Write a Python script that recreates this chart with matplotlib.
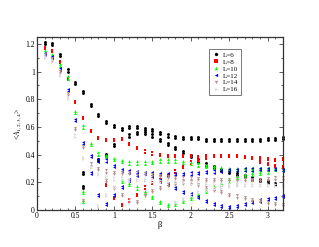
import numpy as np
import matplotlib.pyplot as plt
import matplotlib.transforms as mtransforms

nan = np.nan

beta = [0.1, 0.2, 0.3, 0.4, 0.5, 0.6, 0.7, 0.8, 0.9, 1.0, 1.1, 1.2, 1.3, 1.4, 1.5, 1.6,
        1.7, 1.8, 1.9, 2.0, 2.1, 2.2, 2.3, 2.4, 2.5, 2.6, 2.7, 2.8, 2.9, 3.0, 3.1, 3.2]

# L=6
l6_top = [1.20, 1.19, 1.11, 1.00, 0.91, 0.845, 0.75, 0.68, 0.63, 0.60, 0.58, 0.59, 0.59, 0.58, 0.57, 0.55,
          0.53, 0.52, 0.51, 0.51, 0.51, 0.50, 0.50, 0.50, 0.50, 0.50, 0.50, 0.50, 0.50, 0.505, 0.505, 0.51]
l6_mid = [nan, nan, nan, nan, nan, nan, nan, nan, nan, nan, nan, 0.53, 0.55, 0.55, 0.53, 0.50,
          0.47, 0.44, 0.41, 0.38, 0.35, 0.32, 0.30, 0.28, 0.265, 0.25, 0.235, 0.22, 0.21, 0.195, 0.18, nan]
l6_low = [nan, nan, nan, nan, nan, 0.26, nan, 0.355, 0.39, 0.46, nan, nan, nan, nan, nan, nan,
          nan, nan, nan, nan, nan, nan, nan, nan, nan, nan, nan, nan, nan, nan, nan, nan]
l6_low2 = [nan, nan, nan, nan, nan, 0.16, nan, nan, nan, nan, nan, nan, nan, nan, nan, nan,
           nan, nan, nan, nan, nan, nan, nan, nan, nan, nan, nan, nan, nan, nan, nan, nan]

# L=8
l8_top = [1.16, 1.14, 1.06, 0.94, 0.77, 0.655, 0.565, 0.515, 0.50, 0.50, 0.505, 0.47, 0.44, 0.415, 0.40, 0.39,
          0.38, 0.38, 0.38, 0.38, 0.375, 0.38, 0.38, 0.38, 0.38, 0.38, 0.375, 0.37, 0.365, 0.36, 0.355, 0.36]
l8_mid = [nan, nan, nan, nan, nan, nan, nan, nan, nan, nan, nan, nan, nan, nan, nan, nan,
          nan, nan, nan, nan, nan, nan, nan, nan, nan, nan, nan, nan, 0.34, 0.325, 0.31, 0.30]
l8_low = [nan, nan, nan, nan, nan, nan, nan, nan, 0.175, 0.08, 0.03, 0.06, 0.10, 0.155, 0.185, 0.21,
          0.24, 0.27, 0.30, 0.335, 0.355, 0.37, nan, nan, nan, nan, nan, nan, nan, nan, nan, nan]

# L=10
l10_top = [1.14, 1.11, 1.04, 0.95, 0.70, 0.595, 0.47, 0.40, 0.38, 0.36, 0.345, 0.335, 0.335, 0.335, 0.34, 0.35,
           0.35, 0.35, 0.34, 0.33, 0.32, 0.31, 0.30, 0.295, 0.29, 0.29, 0.29, 0.29, 0.29, 0.29, 0.29, 0.29]
l10_low = [nan, nan, nan, nan, nan, 0.12, nan, nan, nan, nan, 0.20, 0.18, 0.155, 0.12, 0.085, 0.05,
           0.03, 0.035, 0.055, 0.08, 0.10, 0.13, 0.155, 0.18, 0.205, 0.23, 0.245, 0.25, 0.26, 0.27, nan, nan]
l10_low2 = [nan, nan, nan, nan, nan, 0.055, nan, nan, nan, nan, nan, nan, nan, nan, nan, nan,
            nan, nan, nan, nan, nan, nan, nan, nan, nan, nan, nan, nan, nan, nan, nan, nan]

# L=12
l12_top = [1.12, 1.10, 1.01, 0.86, 0.64, 0.475, 0.38, 0.35, 0.35, 0.31, 0.28, 0.27, 0.265, 0.26, 0.255, 0.25,
           0.25, 0.25, 0.25, 0.255, 0.26, 0.265, 0.27, 0.275, 0.28, 0.28, 0.285, 0.285, 0.29, 0.29, 0.29, 0.28]
l12_low = [nan, nan, nan, nan, nan, nan, 0.26, 0.10, 0.035, 0.10, 0.16, 0.21, 0.245, nan, 0.235, 0.205,
           0.18, 0.15, 0.12, 0.11, 0.085, 0.055, 0.035, 0.02, 0.015, 0.02, 0.035, 0.05, 0.06, 0.07, 0.08, 0.095]

# L=14
l14_top = [1.11, 1.08, 0.99, 0.83, 0.58, 0.45, 0.32, 0.29, 0.27, 0.26, 0.26, 0.26, 0.255, 0.25, 0.245, 0.24,
           0.23, 0.225, 0.22, 0.22, 0.215, 0.21, 0.21, 0.21, 0.21, 0.21, 0.21, 0.21, 0.21, 0.215, 0.22, 0.22]
l14_low = [nan, nan, nan, nan, nan, 0.055, nan, nan, 0.20, 0.15, 0.10, 0.06, 0.05, 0.10, 0.13, 0.15,
           0.17, 0.18, 0.19, 0.19, 0.17, 0.15, 0.14, 0.12, 0.10, 0.09, 0.08, 0.065, 0.055, 0.045, 0.035, 0.025]

# L=16
l16_top = [1.10, 1.07, 0.97, 0.80, 0.53, 0.37, 0.30, 0.25, 0.23, 0.22, 0.22, 0.21, 0.21, 0.21, 0.205, 0.20,
           0.20, 0.195, 0.195, 0.19, 0.19, 0.185, 0.185, 0.18, 0.18, 0.18, 0.175, 0.175, 0.17, 0.17, 0.17, 0.17]
l16_low = [nan, nan, nan, nan, nan, nan, nan, 0.02, 0.10, 0.16, nan, nan, nan, nan, nan, nan,
           nan, 0.05, 0.07, 0.10, 0.12, 0.135, 0.15, 0.16, 0.165, 0.17, nan, nan, nan, nan, nan, nan]

series = [
    ('L=6', 'black', 'o', [l6_top, l6_mid, l6_low, l6_low2]),
    ('L=8', 'red', 's', [l8_top, l8_mid, l8_low]),
    ('L=10', '#00ff00', '^', [l10_top, l10_low, l10_low2]),
    ('L=12', 'blue', '<', [l12_top, l12_low]),
    ('L=14', '#bc8f8f', 'v', [l14_top, l14_low]),
    ('L=16', '#dcdcdc', '>', [l16_top, l16_low]),
]

plt.rcParams['font.family'] = ['Liberation Serif', 'DejaVu Serif']
plt.rcParams['mathtext.fontset'] = 'stix'

fig = plt.figure(figsize=(3.19, 2.47), dpi=100)
ax = fig.add_axes([0.116, 0.150, 0.771, 0.700])

# points come in close vertical pairs
shifted = mtransforms.offset_copy(ax.transData, fig=fig, x=0, y=2.2, units='dots')

for label, color, marker, branches in series:
    for ys in branches:
        for tr in (ax.transData, shifted):
            ax.plot(beta, ys, linestyle='none', marker=marker, color=color,
                    markersize=2.1, markeredgewidth=0, transform=tr, clip_on=False)
    ax.plot([], [], linestyle='none', marker=marker, color=color,
            markersize=2.4, markeredgewidth=0, label=label)

ax.set_xlim(0, 3.2)
ax.set_ylim(0, 1.25)
ax.set_xticks([0, 0.5, 1, 1.5, 2, 2.5, 3])
ax.set_xticklabels(['0', '0.5', '1', '1.5', '2', '2.5', '3'])
ax.set_xticks(np.arange(0, 3.21, 0.1), minor=True)
ax.set_yticks([0, 0.2, 0.4, 0.6, 0.8, 1.0, 1.2])
ax.set_yticklabels(['0', '0.2', '0.4', '0.6', '0.8', '1', '1.2'])
ax.set_yticks(np.arange(0, 1.25, 0.1), minor=True)
ax.tick_params(which='both', direction='in', top=True, right=True, labelsize=5.5,
               width=0.6, color='#444444', pad=1.5)
ax.tick_params(which='major', length=3)
ax.tick_params(which='minor', length=1.5)
for s in ax.spines.values():
    s.set_linewidth(0.9)
    s.set_color('#333333')

ax.set_xlabel('β', fontsize=6, labelpad=1)
ax.set_ylabel(r'<$A_{1,2,3,4}$>', fontsize=5.5, labelpad=2)

leg = ax.legend(loc='upper left', bbox_to_anchor=(0.70, 0.93), fontsize=5,
                frameon=True, fancybox=False, edgecolor='#555555', handlelength=1.2,
                handletextpad=0.4, borderpad=0.4, labelspacing=0.15, borderaxespad=0)
leg.get_frame().set_linewidth(0.7)

fig.savefig('out.png', dpi=100)
